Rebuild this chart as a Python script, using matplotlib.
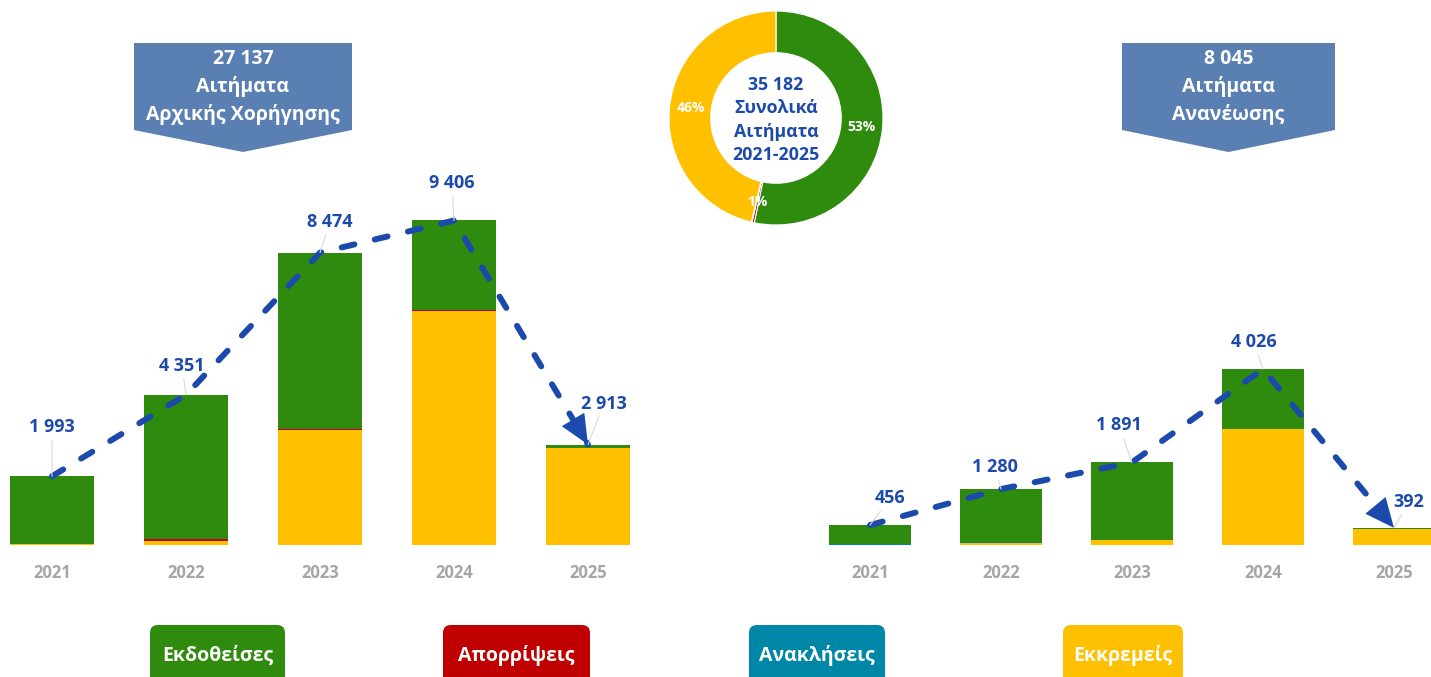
import matplotlib
matplotlib.use('Agg')
import matplotlib.pyplot as plt
import numpy as np
from matplotlib.patches import FancyBboxPatch, Polygon

plt.rcParams['font.family'] = ['Open Sans', 'DejaVu Sans']

W, H = 1431, 677

years = ['2021', '2022', '2023', '2024', '2025']
categories = ['Εκδοθείσες', 'Απορρίψεις', 'Ανακλήσεις', 'Εκκρεμείς']

# initial grant requests (Αρχικής Χορήγησης)
issued_init = [1955, 4180, 5100, 2590, 100]
rejected_init = [8, 41, 40, 30, 3]
revoked_init = [0, 0, 0, 0, 0]
pending_init = [30, 130, 3334, 6786, 2810]

# renewal requests (Ανανέωσης)
issued_renew = [441, 1205, 1770, 1376, 20]
rejected_renew = [0, 0, 1, 0, 0]
revoked_renew = [15, 20, 0, 0, 0]
pending_renew = [0, 55, 120, 2650, 372]

banner_titles = ['Αιτήματα\nΑρχικής Χορήγησης', 'Αιτήματα\nΑνανέωσης']
donut_title = 'Συνολικά\nΑιτήματα\n2021-2025'

GREEN = '#2E8B0E'
RED = '#C00000'
TEAL = '#0086A6'
YELLOW = '#FFC000'
BLUE = '#1C4AAC'
BANNER = '#5A7FB3'
GREY = '#A6A6A6'
cat_colors = [GREEN, RED, TEAL, YELLOW]


def fmt(n):
    return f"{int(n):,}".replace(',', ' ')


def px_axes(fig, x0, y0, x1, y1):
    # pixel box (y from top) -> figure axes
    return fig.add_axes([x0 / W, 1 - y1 / H, (x1 - x0) / W, (y1 - y0) / H])


def draw_panel(ax, issued, rejected, revoked, pending, width, label_offsets):
    x = np.arange(len(years))
    bottom = np.zeros(len(years))
    # stack from bottom: pending, revoked, rejected, issued
    for vals, col in [(pending, YELLOW), (revoked, TEAL), (rejected, RED), (issued, GREEN)]:
        vals = np.asarray(vals, dtype=float)
        ax.bar(x, vals, width, bottom=bottom, color=col, linewidth=0, zorder=2)
        bottom += vals
    totals = bottom

    # dashed trend line through the bar tops, with arrow head at the end
    ax.plot(x, totals, color=BLUE, lw=4.3, dashes=(2.2, 3.5),
            dash_capstyle='round', zorder=4)
    f = 0.12
    ax.annotate('', xy=(x[-1], totals[-1]),
                xytext=(x[-1] - f, totals[-1] + f * (totals[-2] - totals[-1])),
                arrowprops=dict(arrowstyle='-|>,head_length=1.0,head_width=0.45',
                                color=BLUE, lw=0, mutation_scale=21,
                                shrinkA=0, shrinkB=0), zorder=5)

    for i, t in enumerate(totals):
        dx, dy = label_offsets[i]
        ax.annotate(fmt(t), xy=(i, t), xytext=(dx * 0.72, dy * 0.72),
                    textcoords='offset points', ha='center', va='center',
                    color=BLUE, fontsize=13, fontweight='bold', zorder=6,
                    arrowprops=dict(arrowstyle='-', color='#D9D9D9', lw=0.8,
                                    shrinkA=1, shrinkB=0))

    ax.set_xticks(x, years)
    ax.tick_params(axis='x', length=0, pad=14, labelsize=12, labelcolor=GREY)
    for lbl in ax.get_xticklabels():
        lbl.set_fontweight('bold')
    ax.set_yticks([])
    for s in ax.spines.values():
        s.set_visible(False)
    ax.patch.set_alpha(0)
    return totals


fig = plt.figure(figsize=(W / 100, H / 100), dpi=100)

# overlay for banners and legend boxes (pixel coordinates)
ov = fig.add_axes([0, 0, 1, 1])
ov.set_xlim(0, W)
ov.set_ylim(H, 0)
ov.axis('off')

# left panel: initial grants
ax_l = px_axes(fig, 0, 0, 660, 545)
tot_l = draw_panel(ax_l, issued_init, rejected_init, revoked_init, pending_init, 0.627,
                   [(0, 49), (-4, 29), (10, 31), (-2, 37), (16, 41)])
ax_l.set_xlim(-52 / 134, (660 - 52) / 134)
ax_l.set_ylim(0, 545 / 0.0345)

# right panel: renewals
ax_r = px_axes(fig, 700, 0, 1431, 545)
tot_r = draw_panel(ax_r, issued_renew, rejected_renew, revoked_renew, pending_renew, 0.62,
                   [(20, 27), (-6, 22), (-13, 37), (-9, 27), (15, 26)])
ax_r.set_xlim((700 - 870) / 131, (1431 - 870) / 131)
ax_r.set_ylim(0, 545 / 0.0437)

# banners
for (x0, x1), total, title in [((134, 352), tot_l.sum(), banner_titles[0]),
                               ((1122, 1335), tot_r.sum(), banner_titles[1])]:
    xm = (x0 + x1) / 2
    ov.add_patch(Polygon([(x0, 43), (x1, 43), (x1, 130), (xm, 152), (x0, 130)],
                         closed=True, facecolor=BANNER, edgecolor='none'))
    ov.text(xm, 87, fmt(total) + '\n' + title, ha='center', va='center',
            color='white', fontsize=14, fontweight='bold', linespacing=1.45)

# donut of all requests
ax_d = px_axes(fig, 669, 11, 883, 225)
donut_vals = [sum(issued_init) + sum(issued_renew),
              sum(rejected_init) + sum(rejected_renew),
              sum(revoked_init) + sum(revoked_renew),
              sum(pending_init) + sum(pending_renew)]
donut_show = [True, True, False, True]
wedges, _ = ax_d.pie(donut_vals, colors=cat_colors, startangle=90, counterclock=False,
                     radius=1, wedgeprops=dict(width=0.39, edgecolor='white', linewidth=0.8))
grand = sum(donut_vals)
for w, v, show in zip(wedges, donut_vals, donut_show):
    if not show:
        continue
    ang = np.deg2rad((w.theta1 + w.theta2) / 2)
    pct = max(1, round(v / grand * 100))
    ax_d.text(0.8 * np.cos(ang), 0.8 * np.sin(ang), f'{pct}%', ha='center', va='center',
              color='white', fontsize=10, fontweight='bold')
ax_d.text(0, -0.02, fmt(grand) + '\n' + donut_title, ha='center', va='center',
          color=BLUE, fontsize=12.8, fontweight='bold', linespacing=1.38)
ax_d.set_xlim(-1, 1)
ax_d.set_ylim(-1, 1)

# legend boxes
for (x0, x1), name, col in zip([(150, 285), (443, 590), (749, 885), (1063, 1183)],
                               categories, cat_colors):
    ov.add_patch(FancyBboxPatch((x0, 625), x1 - x0, 70,
                                boxstyle='round,pad=0,rounding_size=8',
                                facecolor=col, edgecolor='none'))
    ov.text((x0 + x1) / 2, 655, name, ha='center', va='center', color='white',
            fontsize=14, fontweight='bold')

fig.savefig('out.png', dpi=100)
